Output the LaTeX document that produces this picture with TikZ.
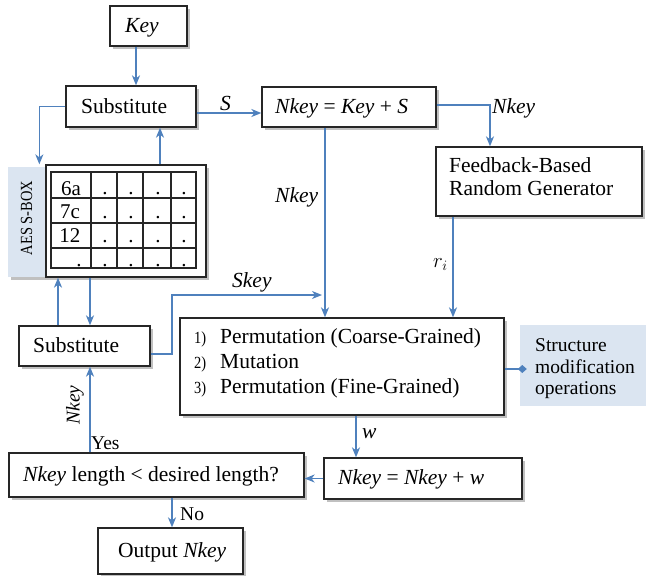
\documentclass[tikz,border=0pt]{standalone}
\usepackage{fontspec}
\setmainfont{Liberation Serif}
\usetikzlibrary{arrows.meta,shadows,calc}
\definecolor{flow}{HTML}{4F81BD}
\definecolor{tag}{HTML}{DBE5F1}
\begin{document}
\begin{tikzpicture}[x=1pt,y=-1pt,
  box/.style={draw=black!85, line width=1.3pt, fill=white, inner sep=0pt,
    drop shadow={shadow xshift=2.5pt, shadow yshift=-2.5pt, fill=black!45, opacity=0.55}},
  tagbox/.style={fill=tag, draw=none, inner sep=0pt},
  txt/.style={inner sep=0pt, anchor=base west, font=\fontsize{21.5}{25}\selectfont},
  itxt/.style={txt, font=\fontsize{21.5}{25}\selectfont\itshape},
  cell/.style={inner sep=0pt, anchor=base, font=\fontsize{21}{25}\selectfont},
  arr/.style={draw=flow, line width=1.3pt, -{Stealth[length=10pt,width=8pt,inset=3pt]}},
  diam/.style={draw=flow, line width=1.3pt, -{Diamond[length=9pt,width=8pt,fill=flow]}},
]
\useasboundingbox (0,0) rectangle (646,576);

% ---------- boxes ----------
\node[box, minimum width=77pt,  minimum height=40pt] (key)  at (148.5,26)  {};
\node[box, minimum width=130pt, minimum height=41pt] (sub1) at (131,106.5) {};
\node[box, minimum width=174pt, minimum height=40pt] (nk1)  at (349,107)   {};
\node[box, minimum width=206pt, minimum height=69pt] (fb)   at (539,181.5) {};
\node[tagbox, minimum width=38pt, minimum height=110pt,
  drop shadow={shadow xshift=2.5pt, shadow yshift=-2.5pt, fill=black!45, opacity=0.55}] (aes) at (27,222) {};
\node[box, minimum width=160pt, minimum height=112pt] (sbox) at (126,221) {};
\node[box, minimum width=131pt, minimum height=40pt] (sub2) at (84.5,346)  {};
\node[box, minimum width=324pt, minimum height=97pt] (perm) at (342,366.5) {};
\node[tagbox, minimum width=126pt, minimum height=81pt] (struct) at (583,365.5) {};
\node[box, minimum width=198pt, minimum height=41pt] (nkw)  at (423,478.5) {};
\node[box, minimum width=295pt, minimum height=44pt] (len)  at (156.5,475) {};
\node[box, minimum width=145pt, minimum height=46pt] (out)  at (170.5,551) {};

% ---------- box texts ----------
\node[itxt] (keyT)  at (125,32)  {Key};
\node[txt]  (sub1T) at (81,113)  {Substitute};
\node[txt]  (nk1T)  at (275,113) {\textit{Nkey} = \textit{Key} + \textit{S}};
\node[txt]  (fbT1)  at (449,172) {Feedback-Based};
\node[txt]  (fbT2)  at (449,195) {Random Generator};
\node[txt]  (sub2T) at (33,352)  {Substitute};
\node[txt]  (nkwT)  at (338,484) {\textit{Nkey} = \textit{Nkey} + \textit{w}};
\node[txt]  (lenT)  at (23,481)  {\textit{Nkey} length < desired length?};
\node[txt]  (outT)  at (118,557) {Output \textit{Nkey}};

\node[inner sep=0pt, rotate=90, font=\fontsize{17}{17}\selectfont] (aesT) at (26.5,218)
  {\scalebox{0.85}[1]{AES S-BOX}};

% list of operations
\foreach \n/\t/\yy in {1/Permutation (Coarse-Grained)/343, 2/Mutation/368, 3/Permutation (Fine-Grained)/393}{
  \node[txt, font=\fontsize{17}{17}\selectfont] (num\n) at (194,\yy) {\scalebox{0.85}[1]{\n)}};
  \node[txt] (op\n) at (220,\yy) {\t};
}

\node[txt, font=\fontsize{19.5}{21}\selectfont] (stT1) at (535,351) {Structure};
\node[txt, font=\fontsize{19.5}{21}\selectfont] (stT2) at (535,373) {modification};
\node[txt, font=\fontsize{19.5}{21}\selectfont] (stT3) at (535,394) {operations};

% ---------- S-box grid ----------
\draw[line width=1.2pt, black!85] (51,172) rectangle (196,268);
\foreach \gx in {91,117,143,171} \draw[line width=1.2pt, black!85] (\gx,172) -- (\gx,268);
\foreach \gy in {198,223,248} \draw[line width=1.2pt, black!85] (51,\gy) -- (196,\gy);

\node[cell] (c11) at (71,195) {6a};
\node[cell] (c21) at (70,218) {7c};
\node[cell] (c31) at (70,242) {12};
\node[cell] (c41) at (79,266) {.};
\foreach \r/\yy in {1/194,2/218,3/242,4/266}{
  \foreach \c/\xx in {2/105,3/131,4/158,5/184}{
    \node[cell] (c\r\c) at (\xx,\yy) {.};
  }
}

% ---------- connectors ----------
\draw[arr] ([xshift=-12.5pt]key.south) -- ([xshift=-12.5pt]key.south |- sub1.north);
\draw[arr] (sub1.west) -| ([xshift=-6pt]sbox.north west);
\draw[arr] ([xshift=34pt]sbox.north) -- ([xshift=34pt]sbox.north |- sub1.south);
\draw[arr] ([yshift=-6.5pt]sub1.east) -- ([yshift=-6.5pt]sub1.east -| nk1.west);
\draw[arr] ([xshift=-24pt]nk1.south) -- ([xshift=-24pt]nk1.south |- perm.north);
\draw[arr] ([yshift=2pt]nk1.east) -| ([xshift=-49pt]fb.north);
\draw[arr] ([xshift=-86pt]fb.south) -- ([xshift=-86pt]fb.south |- perm.north);
\draw[arr] ([xshift=-36pt]sbox.south) -- ([xshift=-36pt]sbox.south |- sub2.north);
\draw[arr] ([xshift=-68pt]sbox.south |- sub2.north) -- ([xshift=-68pt]sbox.south);
\coordinate (skeyBend) at (172,295);
\coordinate (skeyEnd) at (322,295);
\draw[arr] ([yshift=-8pt]sub2.east) -| (skeyBend) -- (skeyEnd);
\draw[diam] ([yshift=-2.5pt]perm.east) -- ([xshift=7pt,yshift=-2.5pt]perm.east -| struct.west);
\draw[arr] ([xshift=14pt]perm.south) -- ([xshift=14pt]perm.south |- nkw.north);
\draw[arr] (nkw.west) -- (nkw.west -| len.east);
\draw[arr] ([xshift=-66.5pt]len.north) -- ([xshift=-66.5pt]len.north |- sub2.south);
\draw[arr] ([xshift=15.5pt]len.south) -- ([xshift=15.5pt]len.south |- out.north);

% ---------- connector labels ----------
\node[itxt] (lS)    at (220,110) {S};
\node[itxt] (lNk1)  at (275,202) {Nkey};
\node[itxt] (lNk2)  at (492,113) {Nkey};
\node[inner sep=0pt, anchor=base west, font=\fontsize{21.5}{25}\selectfont] (lR) at (433,267) {$r_i$};
\node[itxt] (lSk)   at (232,287) {Skey};
\node[itxt] (lW)    at (362,438) {w};
\node[txt, font=\fontsize{19.5}{19.5}\selectfont] (lYes) at (91,449) {Yes};
\node[inner sep=0pt, rotate=90, font=\fontsize{19.5}{19.5}\selectfont\itshape] (lNk3) at (75,405) {Nkey};
\node[txt, font=\fontsize{19.5}{19.5}\selectfont] (lNo) at (180,520) {No};
\end{tikzpicture}
\end{document}
